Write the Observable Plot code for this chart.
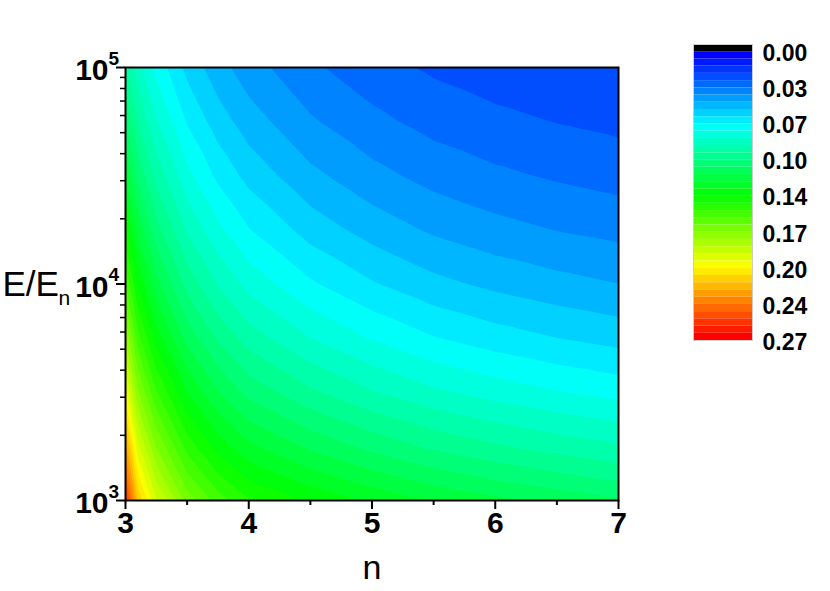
<!DOCTYPE html>
<html><head><meta charset="utf-8">
<script src="https://cdn.jsdelivr.net/npm/d3@7"></script>
<script src="https://cdn.jsdelivr.net/npm/@observablehq/plot@0.6"></script>
<style>
body{margin:0;background:#fff;}
#wrap{position:relative;width:830px;height:591px;background:#fff;}
#wrap svg{position:absolute;top:0;}
</style></head><body><div id="wrap"></div>
<script>
// n (columns) and E/En (rows) sample positions
const nValues = [3, 3.1, 3.25, 3.5, 3.75, 4, 4.5, 5, 5.5, 6, 6.5, 7];
const energyValues = [1000, 1259, 1778, 3162, 5623, 10000, 17783, 31623, 56234, 100000];
// estimated values, one array per E/En row
const row_E1000   = [0.255, 0.215, 0.190, 0.166, 0.152, 0.1425, 0.134, 0.127, 0.121, 0.1165, 0.1125, 0.109];
const row_E1259   = [0.2427, 0.2051, 0.1810, 0.1576, 0.1438, 0.1343, 0.1253, 0.1181, 0.1120, 0.1075, 0.1036, 0.1003];
const row_E1778   = [0.2253, 0.1912, 0.1684, 0.1458, 0.1322, 0.1229, 0.1133, 0.1059, 0.0998, 0.0954, 0.0916, 0.0885];
const row_E3162   = [0.1990, 0.1700, 0.1492, 0.1281, 0.1151, 0.1059, 0.0958, 0.0883, 0.0823, 0.0781, 0.0746, 0.0718];
const row_E5623   = [0.1758, 0.1511, 0.1322, 0.1125, 0.1001, 0.0913, 0.0810, 0.0737, 0.0679, 0.0639, 0.0608, 0.0583];
const row_E10000  = [0.1553, 0.1344, 0.1171, 0.0988, 0.0871, 0.0787, 0.0685, 0.0614, 0.0560, 0.0523, 0.0495, 0.0473];
const row_E17783  = [0.1372, 0.1195, 0.1038, 0.0868, 0.0758, 0.0679, 0.0579, 0.0512, 0.0462, 0.0428, 0.0403, 0.0384];
const row_E31623  = [0.1212, 0.1063, 0.0920, 0.0762, 0.0659, 0.0585, 0.0490, 0.0427, 0.0381, 0.0351, 0.0329, 0.0311];
const row_E56234  = [0.1071, 0.0945, 0.0815, 0.0669, 0.0574, 0.0505, 0.0414, 0.0356, 0.0314, 0.0287, 0.0268, 0.0253];
const row_E100000 = [0.0946, 0.0840, 0.0722, 0.0588, 0.0499, 0.0435, 0.0350, 0.0297, 0.0259, 0.0235, 0.0218, 0.0205];
const rows = [row_E1000, row_E1259, row_E1778, row_E3162, row_E5623, row_E10000, row_E17783, row_E31623, row_E56234, row_E100000];

// axes
const xMajorTicks = [3, 4, 5, 6, 7];
const xMinorTicks = [3.5, 4.5, 5.5, 6.5];
const yMajorTicks = [1e3, 1e4, 1e5];
const yExponents = ["3", "4", "5"];
const yMinorTicks = [2e3, 3e3, 4e3, 5e3, 6e3, 7e3, 8e3, 9e3, 2e4, 3e4, 4e4, 5e4, 6e4, 7e4, 8e4, 9e4];

// colour levels
const levelCount = 40;
const levelMax = 0.27;
const colorStops = ["#0000ff", "#00ffff", "#00ff00", "#ffff00", "#ff0000"];
const barTickLabels = ["0.00", "0.03", "0.07", "0.10", "0.14", "0.17", "0.20", "0.24", "0.27"];

const step = levelMax / levelCount;
const thresholds = d3.range(levelCount).map(k => k * step);
const topLevel = (levelCount - 1) * step;
const colorOpts = {
  type: "linear",
  domain: colorStops.map((c, i) => topLevel * i / (colorStops.length - 1)),
  range: colorStops,
  interpolate: "rgb"
};

const grid = [];
energyValues.forEach((E, i) => nValues.forEach((n, j) => grid.push({n, E, value: rows[i][j]})));

const font = "'Liberation Sans', Arial, Helvetica, sans-serif";

const main = Plot.plot({
  width: 830, height: 591,
  marginLeft: 125, marginRight: 212, marginTop: 67, marginBottom: 91,
  style: {fontFamily: font, background: "white", color: "black"},
  x: {domain: [3, 7], label: null},
  y: {type: "log", domain: [1e3, 1e5], label: null},
  color: colorOpts,
  marks: [
    Plot.contour(grid, {x: "n", y: "E", fill: "value", thresholds, interpolate: "barycentric", pixelSize: 1, stroke: "none"}),
    Plot.frame({stroke: "black", strokeWidth: 2}),
    Plot.axisX(xMajorTicks, {tickSize: 9, tickPadding: 2, strokeWidth: 2, fontSize: 30, fontWeight: "bold", tickFormat: d => String(d), label: null}),
    Plot.axisX(xMinorTicks, {tickSize: 5, strokeWidth: 2, tickFormat: () => "", label: null}),
    Plot.axisY(yMajorTicks, {tickSize: 9, strokeWidth: 2, tickFormat: () => "", label: null}),
    Plot.axisY(yMinorTicks, {tickSize: 5, strokeWidth: 1.5, tickFormat: () => "", label: null}),
    Plot.text(yMajorTicks, {frameAnchor: "left", y: d => d, text: () => "10", dx: -17, dy: 3, textAnchor: "end", fontSize: 30, fontWeight: "bold"}),
    Plot.text(yMajorTicks, {frameAnchor: "left", y: d => d, text: (d, i) => yExponents[i], dx: -17, dy: -9, textAnchor: "start", fontSize: 19, fontWeight: "bold"}),
    Plot.text(["E/E"], {frameAnchor: "left", text: d => d, dx: -123, dy: 1, textAnchor: "start", fontSize: 35}),
    Plot.text(["n"], {frameAnchor: "left", text: d => d, dx: -67, dy: 14, textAnchor: "start", fontSize: 21}),
    Plot.text(["n"], {frameAnchor: "bottom", text: d => d, dy: 78, fontSize: 34})
  ]
});

const barLevels = thresholds;
const bar = Plot.plot({
  width: 150, height: 360,
  marginTop: 44, marginBottom: 20, marginLeft: 13, marginRight: 78,
  style: {fontFamily: font, background: "transparent", color: "black"},
  x: {domain: [0, 1], axis: null},
  y: {domain: [levelMax, -step], axis: null},
  color: colorOpts,
  marks: [
    Plot.rect(barLevels, {x1: 0, x2: 1, y1: d => d, y2: d => d + step, fill: d => d}),
    Plot.rect([-step], {x1: 0, x2: 1, y1: d => d, y2: 0, fill: "black"}),
    Plot.frame({stroke: "#cccccc", strokeWidth: 1}),
    Plot.text(barTickLabels, {x: 1, y: (d, i) => i * levelMax / (barTickLabels.length - 1), text: d => d, dx: 10, dy: 2, textAnchor: "start", fontSize: 23, fontWeight: "bold"})
  ]
});

const wrap = document.getElementById("wrap");
main.style.left = "0px";
bar.style.left = "680px";
wrap.appendChild(main);
wrap.appendChild(bar);
</script>
</body></html>
